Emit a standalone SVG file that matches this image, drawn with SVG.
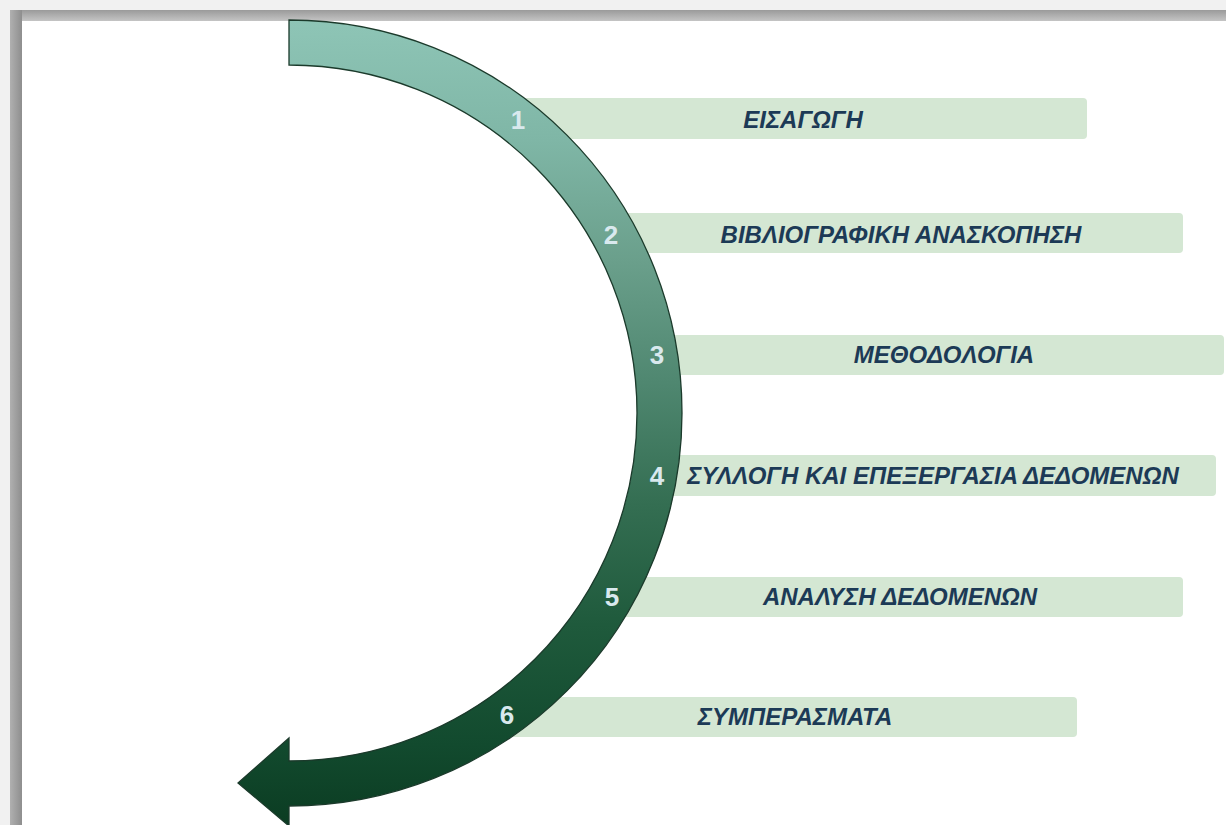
<svg xmlns="http://www.w3.org/2000/svg" width="1226" height="825" viewBox="0 0 1226 825">
  <defs>
    <linearGradient id="arcGrad" gradientUnits="userSpaceOnUse" x1="0" y1="20" x2="0" y2="826">
      <stop offset="0" stop-color="#8ec5b6"/>
      <stop offset="0.15" stop-color="#7fb6a6"/>
      <stop offset="0.3" stop-color="#6a9f8b"/>
      <stop offset="0.45" stop-color="#4f8770"/>
      <stop offset="0.6" stop-color="#346e52"/>
      <stop offset="0.75" stop-color="#1f5a3c"/>
      <stop offset="0.9" stop-color="#124a2e"/>
      <stop offset="1" stop-color="#0b3c22"/>
    </linearGradient>
    <linearGradient id="topBand" x1="0" y1="0" x2="0" y2="1">
      <stop offset="0" stop-color="#9a9a9a"/>
      <stop offset="1" stop-color="#c4c4c4"/>
    </linearGradient>
    <linearGradient id="leftBand" x1="0" y1="0" x2="1" y2="0">
      <stop offset="0" stop-color="#b0b0b0"/>
      <stop offset="1" stop-color="#8e8e8e"/>
    </linearGradient>
  </defs>
  <style>
    .bar { fill: #d4e7d3; }
    .label { font-family: "Liberation Sans", Arial, sans-serif; font-weight: bold; font-style: italic; font-size: 24px; fill: #1c3a56; text-anchor: middle; }
    .num { font-family: "Liberation Sans", Arial, sans-serif; font-weight: bold; font-size: 26px; fill: #d9e9ee; text-anchor: middle; }
  </style>

  <rect x="0" y="0" width="1226" height="825" fill="#ffffff"/>
  <g id="frame">
    <rect x="0" y="0" width="1226" height="10" fill="#f1f1f1"/>
    <rect x="0" y="0" width="10" height="825" fill="#f1f1f1"/>
    <rect x="10" y="10" width="1216" height="11" fill="url(#topBand)"/>
    <rect x="10" y="10" width="12" height="815" fill="url(#leftBand)"/>
  </g>

  <g id="bars">
    <g id="node1"><rect class="bar" x="515" y="98" width="572" height="41" rx="4"/></g>
    <g id="node2"><rect class="bar" x="614" y="213" width="569" height="40" rx="4"/></g>
    <g id="node3"><rect class="bar" x="656" y="335" width="568" height="40" rx="4"/></g>
    <g id="node4"><rect class="bar" x="655" y="455" width="561" height="41" rx="4"/></g>
    <g id="node5"><rect class="bar" x="611" y="577" width="572" height="40" rx="4"/></g>
    <g id="node6"><rect class="bar" x="500" y="697" width="577" height="40" rx="4"/></g>
  </g>

  <g id="connectors">
    <path id="arc" d="M289,20 A393,393 0 0 1 289,806 L289,826 L238,783 L289,738 L289,761 A348,348 0 0 0 289,65 Z" fill="url(#arcGrad)" stroke="#1b3a2b" stroke-width="1.3" stroke-linejoin="miter"/>
  </g>

  <g id="numbers">
    <text class="num" x="518" y="129">1</text>
    <text class="num" x="611" y="244">2</text>
    <text class="num" x="657" y="364">3</text>
    <text class="num" x="657" y="485">4</text>
    <text class="num" x="612" y="606">5</text>
    <text class="num" x="507" y="724">6</text>
  </g>

  <g id="labels">
    <text class="label" x="803" y="128">ΕΙΣΑΓΩΓΗ</text>
    <text class="label" x="901" y="243">ΒΙΒΛΙΟΓΡΑΦΙΚΗ ΑΝΑΣΚΟΠΗΣΗ</text>
    <text class="label" x="944" y="363">ΜΕΘΟΔΟΛΟΓΙΑ</text>
    <text class="label" x="933" y="484">ΣΥΛΛΟΓΗ ΚΑΙ ΕΠΕΞΕΡΓΑΣΙΑ ΔΕΔΟΜΕΝΩΝ</text>
    <text class="label" x="900" y="605">ΑΝΑΛΥΣΗ ΔΕΔΟΜΕΝΩΝ</text>
    <text class="label" x="795" y="725">ΣΥΜΠΕΡΑΣΜΑΤΑ</text>
  </g>
</svg>
